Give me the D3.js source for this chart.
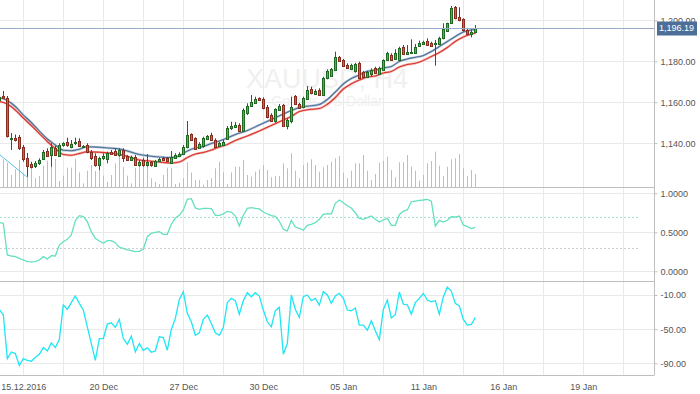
<!DOCTYPE html>
<html>
<head>
<meta charset="utf-8">
<script src="https://cdn.jsdelivr.net/npm/d3@7"></script>
<style>
  body { margin: 0; background: #fff; }
  svg text { font-family: "Liberation Sans", Arial, sans-serif; }
</style>
</head>
<body>
<svg id="chart" width="700" height="394"></svg>
<script>
// XAUUSD H4 chart: candles + volume + two MAs, then two oscillator panes

const FIRST_BAR = -1; // first array entry is bar -1 (partly off the left edge)

const opens = [1161.08,1163.04,1162.30,1142.25,1142.64,1142.99,1138.10,1132.86,1129.64,1128.81,1130.13,1132.23,1136.29,1134.18,1137.75,1133.84,1138.73,1140.40,1138.44,1139.71,1141.03,1138.10,1139.07,1135.80,1133.84,1129.64,1132.57,1132.23,1135.80,1136.29,1134.18,1136.63,1133.70,1131.74,1133.35,1129.29,1131.74,1129.64,1130.62,1128.81,1131.25,1132.86,1132.57,1130.62,1132.57,1133.70,1134.53,1137.95,1144.31,1142.35,1137.46,1138.24,1142.01,1143.96,1141.52,1138.59,1139.07,1142.35,1147.24,1147.88,1148.85,1146.07,1154.58,1158.15,1159.47,1161.91,1161.57,1157.80,1153.74,1150.47,1156.19,1158.63,1148.37,1150.96,1163.04,1159.12,1157.51,1161.57,1166.31,1164.36,1165.97,1163.52,1171.69,1172.82,1175.75,1182.25,1180.64,1178.19,1176.24,1174.92,1179.32,1174.77,1172.47,1173.79,1176.58,1173.79,1175.75,1180.64,1183.08,1181.47,1180.98,1187.14,1183.92,1184.06,1184.21,1187.83,1188.46,1190.08,1189.10,1188.32,1188.46,1191.25,1194.82,1198.59,1206.41,1201.52,1200.54,1195.31,1193.35,1193.99];
const highs = [1163.52,1165.48,1163.04,1144.94,1144.21,1143.96,1139.07,1135.16,1130.91,1131.25,1132.57,1136.63,1137.46,1140.05,1138.59,1139.91,1140.40,1142.64,1141.52,1142.64,1142.35,1139.07,1139.91,1136.63,1135.02,1133.35,1135.02,1135.80,1136.63,1137.46,1137.46,1137.46,1134.18,1133.94,1134.18,1131.74,1132.57,1134.67,1131.25,1131.74,1132.86,1133.35,1133.21,1136.14,1135.02,1135.51,1139.07,1150.81,1144.80,1142.84,1140.40,1143.13,1143.96,1145.09,1142.35,1140.54,1141.52,1148.37,1150.47,1150.32,1149.69,1157.02,1159.47,1163.52,1162.69,1162.40,1162.40,1158.63,1154.58,1157.02,1159.12,1159.12,1152.13,1162.69,1163.52,1159.76,1162.69,1167.93,1167.58,1166.31,1166.80,1172.47,1176.09,1176.73,1184.70,1182.60,1181.13,1179.03,1178.83,1179.32,1179.81,1175.26,1175.41,1176.58,1177.36,1177.36,1180.98,1184.70,1183.92,1185.87,1187.14,1187.97,1187.97,1190.76,1188.46,1190.08,1190.08,1191.25,1189.59,1190.42,1192.03,1198.59,1198.88,1207.05,1207.05,1206.41,1201.03,1196.14,1195.65,1197.75];
const lows = [1160.59,1161.57,1142.74,1136.63,1140.79,1136.63,1130.91,1123.57,1127.68,1127.83,1129.29,1131.74,1133.35,1128.46,1133.70,1133.70,1138.24,1138.24,1137.46,1139.07,1138.24,1137.75,1135.02,1131.74,1128.46,1126.85,1131.74,1130.13,1134.18,1133.70,1133.35,1130.76,1131.25,1131.25,1129.29,1128.46,1128.46,1128.46,1128.46,1128.32,1130.76,1131.25,1130.76,1130.13,1132.23,1133.21,1134.18,1137.46,1141.03,1136.63,1137.12,1137.75,1141.52,1141.03,1137.75,1138.10,1138.59,1141.86,1146.41,1147.39,1145.58,1145.58,1153.74,1157.80,1159.12,1160.74,1156.53,1152.13,1150.47,1149.98,1155.85,1148.02,1146.75,1149.69,1158.63,1156.83,1157.02,1161.08,1163.87,1163.87,1163.04,1163.04,1171.20,1172.47,1175.41,1179.66,1177.36,1176.24,1175.75,1174.43,1171.69,1171.98,1171.98,1172.47,1173.79,1173.30,1175.41,1180.15,1180.15,1180.98,1180.64,1183.43,1183.08,1183.92,1183.92,1187.49,1187.97,1187.83,1187.49,1177.85,1187.97,1190.76,1194.48,1198.24,1200.54,1199.56,1194.48,1192.86,1191.74,1193.70];
const closes = [1162.69,1161.91,1143.48,1142.74,1141.52,1137.46,1132.23,1128.95,1128.32,1130.42,1131.74,1135.80,1133.84,1138.24,1134.18,1139.07,1139.91,1138.73,1139.71,1140.40,1138.59,1138.44,1135.80,1132.86,1129.29,1132.86,1133.70,1135.02,1134.82,1134.18,1136.63,1132.57,1131.74,1133.35,1129.64,1130.91,1129.29,1130.91,1128.95,1131.25,1132.23,1131.74,1131.25,1133.35,1134.18,1134.82,1137.95,1143.96,1141.52,1137.12,1139.42,1142.35,1143.48,1141.52,1138.24,1139.91,1140.69,1147.53,1148.37,1149.10,1146.07,1156.19,1158.15,1160.25,1161.57,1161.08,1157.02,1152.91,1150.96,1156.53,1158.15,1148.37,1151.30,1157.80,1159.12,1157.31,1161.91,1165.97,1164.36,1165.63,1163.52,1171.69,1175.26,1176.09,1181.96,1180.15,1177.85,1176.58,1178.19,1178.54,1172.18,1172.47,1174.77,1175.75,1174.14,1176.58,1180.64,1183.92,1180.64,1184.21,1186.65,1183.92,1184.70,1184.70,1187.14,1189.10,1189.59,1188.32,1187.83,1188.81,1191.25,1195.65,1198.59,1205.92,1201.03,1199.86,1194.97,1193.35,1194.48,1196.19];
const volumes = [2000,2820,2480,1250,1820,2750,1350,3420,2150,920,1150,2180,2680,2420,2850,650,1180,1980,1980,2850,1520,420,1680,2250,1650,1850,1180,580,1250,2420,3350,2080,1180,420,1980,2080,3420,3180,920,580,350,1250,1980,1980,350,480,920,2520,1500,750,750,300,750,920,1920,2580,1520,330,1520,2080,2080,2750,1250,1080,1580,1820,2250,1750,1020,1150,1150,2420,1920,3420,1680,920,2250,2480,2820,2250,1580,2020,2250,2580,2920,3150,1480,920,1680,2420,2420,3250,1680,750,1350,2480,2680,3080,1750,1020,2520,2520,3250,2080,1680,680,1250,2420,2650,3580,2180,1150,2080,2820,2920,3350,1920,1150,1750,1350];

// moving averages, read at sample bars
const maIdx = [-1,1,3,5,7,9,11,13,14,15,17,19,21,24,27,29,31,34,36,39,42,44,46,48,50,52,54,56,58,61,64,67,70,72,74,77,79,81,83,85,87,89,91,93,95,97,99,101,103,105,107,109,111,113,115,117,118];
const maUpper = [1162.30,1160.84,1157.90,1153.74,1150.08,1145.92,1142.01,1139.07,1137.61,1136.48,1136.29,1137.02,1138.24,1137.95,1137.51,1137.12,1136.14,1134.43,1133.84,1133.21,1132.96,1133.70,1136.14,1137.61,1138.34,1139.81,1141.03,1142.50,1144.21,1146.17,1148.85,1151.54,1154.23,1155.95,1157.41,1158.24,1158.88,1161.32,1164.99,1168.90,1171.59,1173.30,1175.11,1175.75,1176.73,1177.46,1179.91,1181.13,1181.96,1182.84,1184.80,1187.24,1189.69,1192.13,1194.33,1195.31,1195.55];
const maLower = [1160.35,1159.12,1156.19,1152.28,1148.61,1144.70,1140.79,1137.36,1135.65,1134.43,1134.09,1134.92,1135.80,1135.51,1135.07,1134.53,1133.55,1131.74,1131.35,1130.76,1130.27,1130.76,1132.96,1134.67,1135.41,1136.63,1138.10,1139.32,1141.28,1143.48,1145.92,1148.61,1151.30,1153.01,1155.46,1156.58,1156.92,1158.98,1162.30,1166.46,1169.00,1170.86,1172.33,1172.82,1174.28,1175.02,1177.22,1178.44,1179.03,1180.40,1182.35,1184.31,1186.75,1189.69,1191.89,1193.35,1193.70];

// leftover trend segment at bottom left
const trendIdx = [-0.83, 5.84];
const trendVal = [1134.18, 1123.57];

// oscillator 1 (0..1) and oscillator 2 (%R style), one value per bar
const osc1 = [0.627,0.615,0.209,0.196,0.188,0.167,0.145,0.124,0.12,0.124,0.145,0.188,0.158,0.2,0.196,0.337,0.38,0.41,0.465,0.649,0.713,0.7,0.636,0.508,0.423,0.389,0.359,0.393,0.393,0.367,0.308,0.295,0.274,0.265,0.252,0.256,0.286,0.444,0.487,0.5,0.509,0.474,0.474,0.603,0.683,0.718,0.786,0.923,0.931,0.812,0.795,0.807,0.807,0.803,0.718,0.718,0.735,0.769,0.76,0.709,0.581,0.718,0.807,0.816,0.807,0.799,0.76,0.735,0.713,0.705,0.641,0.538,0.517,0.654,0.568,0.551,0.526,0.59,0.603,0.623,0.667,0.731,0.739,0.735,0.872,0.914,0.88,0.841,0.812,0.751,0.679,0.667,0.688,0.709,0.667,0.632,0.658,0.679,0.59,0.59,0.726,0.773,0.786,0.892,0.9,0.909,0.914,0.923,0.9,0.581,0.654,0.632,0.654,0.7,0.696,0.709,0.594,0.573,0.547,0.564];
const osc2 = [-26.9,-33.5,-84.5,-76.7,-78.6,-92.4,-84.5,-86.5,-87.6,-83.3,-79.4,-71.6,-75.5,-66.1,-71.6,-62.2,-21.8,-26.9,-19,-11.2,-19.8,-27.6,-47.3,-66.9,-86.5,-61,-61,-44.1,-42.6,-48,-38.6,-61,-67.6,-58.2,-76.7,-66.9,-74.7,-71.9,-77.1,-75.5,-59,-59.8,-74.7,-50.4,-37.4,-15.1,-6.1,-31.5,-41.4,-57.1,-54.3,-38.6,-33.5,-43.3,-54.3,-57.1,-48,-19,-13.9,-16.7,-32.4,-16.7,-7.3,-12,-7.3,-11.2,-27.6,-41.4,-47.3,-28.4,-24.5,-79.4,-66.9,-10,-26.9,-36.2,-12,-10,-16.7,-13.9,-21.8,-6.1,-10,-19.8,-11.2,-8,-13.9,-27.6,-28.4,-25.3,-45.3,-45.3,-51.2,-40.2,-52,-62.2,-26.9,-15.9,-36.7,-33.1,-6.5,-20.6,-21.4,-32.4,-19,-13.9,-8,-15.9,-17.9,-16.7,-32.4,-12,-0.9,-5.3,-19.8,-22.9,-38.6,-45.3,-44.5,-36.2];

const lastPrice = 1196.19;
const dateIdx = [5, 25, 45, 65, 85, 105, 125, 145];
const dateLabels = ["15.12.2016", "20 Dec", "27 Dec", "30 Dec", "05 Jan", "11 Jan", "16 Jan", "19 Jan"];
const priceTicks = [1140, 1160, 1180, 1200];
const osc1Ticks = [0, 0.5, 1];
const osc1Levels = [0.7, 0.3];
const osc2Ticks = [-90, -50, -10];

const AXIS_X = 654;
const MAIN_BOTTOM = 187.5, OSC1_BOTTOM = 281, OSC2_BOTTOM = 375;

const fmtLocale = d3.formatLocale({decimal: ".", thousands: ",", grouping: [3], currency: ["", ""], minus: "-"});

const svg = d3.select("#chart");

const x = d3.scaleLinear().domain([-0.83, 162.67]).range([0, AXIS_X]);
const yMain = d3.scaleLinear().domain([1118.3, 1209.98]).range([MAIN_BOTTOM, 0]);
const yVol = d3.scaleLinear().domain([0, 10000]).range([MAIN_BOTTOM, MAIN_BOTTOM - 100]);
const yOsc1 = d3.scaleLinear().domain([0, 1]).range([271.3, 193.3]);
const yOsc2 = d3.scaleLinear().domain([-90, -10]).range([363.3, 295]);

const px = i => Math.round(x(i)) + 0.5; // pixel centre of bar i
const bars = d3.range(opens.length).map(k => ({
  i: FIRST_BAR + k, o: opens[k], h: highs[k], l: lows[k], c: closes[k], v: volumes[k]
}));

// clip paths for the three panes
const defs = svg.append("defs");
[["clipMain", 0, MAIN_BOTTOM], ["clipOsc1", MAIN_BOTTOM, OSC1_BOTTOM], ["clipOsc2", OSC1_BOTTOM, OSC2_BOTTOM]]
  .forEach(([id, y0, y1]) => {
    defs.append("clipPath").attr("id", id)
      .append("rect").attr("x", 0).attr("y", y0).attr("width", AXIS_X).attr("height", y1 - y0);
  });

// grid
const grid = svg.append("g").attr("stroke", "#e9e9e9").attr("stroke-width", 1);
d3.range(5, 160, 10).forEach(i => {
  grid.append("line").attr("x1", px(i)).attr("x2", px(i)).attr("y1", 0).attr("y2", OSC2_BOTTOM);
});
const hLines = priceTicks.map(v => yMain(v))
  .concat(osc1Ticks.map(v => yOsc1(v)))
  .concat(osc2Ticks.map(v => yOsc2(v)));
hLines.forEach(y => {
  const yy = Math.round(y) + 0.5;
  grid.append("line").attr("x1", 0).attr("x2", AXIS_X).attr("y1", yy).attr("y2", yy);
});

// watermark
svg.append("text").attr("x", 327).attr("y", 88).attr("text-anchor", "middle")
  .attr("font-size", 27).attr("fill", "#f0f0f0").text("XAUUSD, H4");
svg.append("text").attr("x", 327).attr("y", 106).attr("text-anchor", "middle")
  .attr("font-size", 14).attr("fill", "#f0f0f0").text("Gold vs US Dollar");

const main = svg.append("g").attr("clip-path", "url(#clipMain)");

// volume
main.append("g").selectAll("line").data(bars).join("line")
  .attr("x1", d => px(d.i)).attr("x2", d => px(d.i))
  .attr("y1", MAIN_BOTTOM).attr("y2", d => yVol(d.v))
  .attr("stroke", "#8ccdf0").attr("stroke-width", 1);

// trend segment
main.append("path")
  .attr("d", d3.line().x((d, k) => x(trendIdx[k])).y(d => yMain(d))(trendVal))
  .attr("fill", "none").attr("stroke", "#5dbbe8").attr("stroke-width", 1);

// moving averages
const maLine = vals => d3.line().curve(d3.curveMonotoneX)
  .x((d, k) => x(maIdx[k])).y(d => yMain(d))(vals);
main.append("path").attr("d", maLine(maUpper)).attr("fill", "none")
  .attr("stroke", "#b7c7d8").attr("stroke-width", 2.4);
main.append("path").attr("d", maLine(maUpper)).attr("fill", "none")
  .attr("stroke", "#4e6f96").attr("stroke-width", 1.1);
main.append("path").attr("d", maLine(maLower)).attr("fill", "none")
  .attr("stroke", "#f1b3ad").attr("stroke-width", 2.4);
main.append("path").attr("d", maLine(maLower)).attr("fill", "none")
  .attr("stroke", "#d8352f").attr("stroke-width", 1.1);

// candles
const candle = main.append("g").selectAll("g").data(bars).join("g");
const edge = d => d.c >= d.o ? "#1f6a22" : "#8a2c20";
candle.append("line")
  .attr("x1", d => px(d.i)).attr("x2", d => px(d.i))
  .attr("y1", d => yMain(d.h)).attr("y2", d => yMain(d.l))
  .attr("stroke", edge).attr("stroke-width", 1);
candle.append("rect")
  .attr("x", d => px(d.i) - 1)
  .attr("y", d => Math.round(yMain(Math.max(d.o, d.c))) + 0.5)
  .attr("width", 2)
  .attr("height", d => Math.max(1, Math.round(Math.abs(yMain(d.o) - yMain(d.c)))))
  .attr("fill", d => d.c >= d.o ? "#4fb04c" : "#dc5a44")
  .attr("stroke", edge).attr("stroke-width", 1);

// last price line
const yLast = Math.round(yMain(lastPrice)) + 0.5;
svg.append("line").attr("x1", 0).attr("x2", AXIS_X).attr("y1", yLast).attr("y2", yLast)
  .attr("stroke", "#97acc6").attr("stroke-width", 1);

// oscillator 1
const o1 = svg.append("g").attr("clip-path", "url(#clipOsc1)");
osc1Levels.forEach((lv, k) => {
  const yy = Math.round(yOsc1(lv)) + 0.5;
  o1.append("line").attr("x1", 0).attr("x2", 640).attr("y1", yy).attr("y2", yy)
    .attr("stroke", k === 0 ? "#9fe2d2" : "#cfcfcf").attr("stroke-dasharray", "2,2");
});
o1.append("path")
  .attr("d", d3.line().x((d, k) => x(FIRST_BAR + k)).y(d => yOsc1(d))(osc1))
  .attr("fill", "none").attr("stroke", "#64e0c0").attr("stroke-width", 1.3);

// oscillator 2
const o2 = svg.append("g").attr("clip-path", "url(#clipOsc2)");
o2.append("path")
  .attr("d", d3.line().x((d, k) => x(FIRST_BAR + k)).y(d => yOsc2(d))(osc2))
  .attr("fill", "none").attr("stroke", "#1ee6f4").attr("stroke-width", 1.3);

// pane borders
const borders = svg.append("g").attr("stroke", "#bfbfbf").attr("stroke-width", 1);
[MAIN_BOTTOM, OSC1_BOTTOM, OSC2_BOTTOM].forEach(y => {
  const yy = Math.floor(y) + 0.5;
  borders.append("line").attr("x1", 0).attr("x2", AXIS_X).attr("y1", yy).attr("y2", yy);
});
borders.append("line").attr("x1", AXIS_X + 0.5).attr("x2", AXIS_X + 0.5).attr("y1", 0).attr("y2", OSC2_BOTTOM + 0.5);

// right axes
function rightAxis(scale, ticks, fmt) {
  const g = svg.append("g").attr("transform", `translate(${AXIS_X + 0.5},0)`)
    .call(d3.axisRight(scale).tickValues(ticks).tickFormat(fmt).tickSize(3).tickPadding(3));
  g.select(".domain").remove();
  g.selectAll("line").attr("stroke", "#bfbfbf");
  g.selectAll("text").attr("font-size", 9).attr("fill", "#555").attr("font-family", "Liberation Sans, Arial, sans-serif");
}
rightAxis(yMain, priceTicks, fmtLocale.format(",.2f"));
rightAxis(yOsc1, osc1Ticks, fmtLocale.format(".4f"));
rightAxis(yOsc2, osc2Ticks, fmtLocale.format(".2f"));

// bottom axis
const xAxis = svg.append("g").attr("transform", `translate(0,${OSC2_BOTTOM})`)
  .call(d3.axisBottom(x).tickValues(dateIdx).tickFormat((d, k) => dateLabels[k]).tickSize(0).tickPadding(9));
xAxis.select(".domain").remove();
xAxis.selectAll("text").attr("font-size", 9).attr("fill", "#555").attr("font-family", "Liberation Sans, Arial, sans-serif");

// last price tag (covers the lower half of the 1,200.00 label, as in the original)
svg.append("rect").attr("x", 657).attr("y", yLast - 7).attr("width", 40).attr("height", 14)
  .attr("fill", "#4b6f98");
svg.append("text").attr("x", 659).attr("y", yLast).attr("dy", "0.33em")
  .attr("font-size", 9).attr("fill", "#fff").text(fmtLocale.format(",.2f")(lastPrice));
</script>
</body>
</html>
